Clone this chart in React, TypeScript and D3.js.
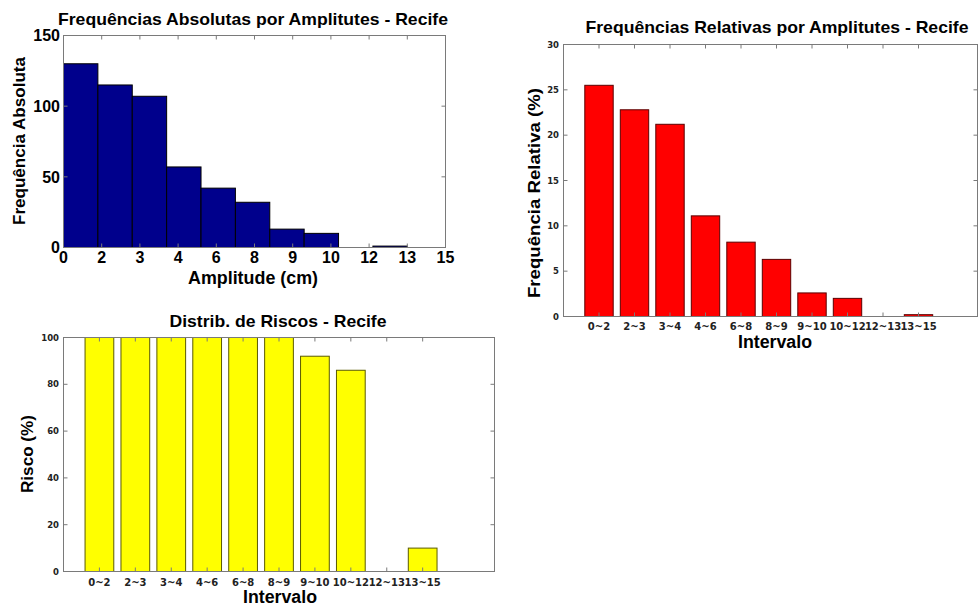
import React from "react";
import * as d3 from "d3";

// ---------- data ----------
const histEdges = [0, 0.9, 1.8, 2.7, 3.6, 4.5, 5.4, 6.3, 7.2, 8.1, 9.0];
const histCounts = [130, 115, 107, 57, 42, 32, 13, 10, 0, 1];
const histTickLabels = ["0", "2", "3", "4", "6", "8", "9", "10", "12", "13", "15"];
const histYTicks = [0, 50, 100, 150];

const intervals = ["0~2", "2~3", "3~4", "4~6", "6~8", "8~9", "9~10", "10~12", "12~13", "13~15"];
const relFreq = [25.5, 22.8, 21.2, 11.1, 8.2, 6.3, 2.6, 2.0, 0, 0.2];
const relYTicks = [0, 5, 10, 15, 20, 25, 30];

const risk = [100, 100, 100, 100, 100, 100, 92, 86, 0, 10];
const riskYTicks = [0, 20, 40, 60, 80, 100];

const ARIAL = "'Liberation Sans', Arial, Helvetica, sans-serif";
const DEJA = "'DejaVu Sans', sans-serif";
const FRAME = "#7a7a7a";
const TICK = 4;

type FrameProps = {
  x0: number; x1: number; y0: number; y1: number;
  xTicks: number[]; yTicks: number[];
};
function Frame({ x0, x1, y0, y1, xTicks, yTicks }: FrameProps) {
  return (
    <g stroke={FRAME} strokeWidth={1} fill="none">
      <rect x={x0} y={y1} width={x1 - x0} height={y0 - y1} />
      {xTicks.map((x, i) => (
        <g key={"x" + i}>
          <line x1={x} x2={x} y1={y0} y2={y0 - TICK} />
          <line x1={x} x2={x} y1={y1} y2={y1 + TICK} />
        </g>
      ))}
      {yTicks.map((y, i) => (
        <g key={"y" + i}>
          <line x1={x0} x2={x0 + TICK} y1={y} y2={y} />
          <line x1={x1} x2={x1 - TICK} y1={y} y2={y} />
        </g>
      ))}
    </g>
  );
}

function HistChart() {
  const x = d3.scaleLinear().domain([0, 10]).range([63.5, 445.5]);
  const y = d3.scaleLinear().domain([0, 150]).range([247.5, 35.5]);
  const tickPos = histTickLabels.map((_, i) => x(i));
  return (
    <g>
      {histCounts.map((c, i) => (
        <rect key={i} x={x(histEdges[i])} y={y(c)} width={x(histEdges[i + 1]) - x(histEdges[i])}
          height={y(0) - y(c)} fill="#00008c" stroke="#000" strokeWidth={1} />
      ))}
      <Frame x0={x(0)} x1={x(10)} y0={y(0)} y1={y(150)} xTicks={tickPos} yTicks={histYTicks.map(y)} />
      {histTickLabels.map((t, i) => (
        <text key={i} x={x(i)} y={263} textAnchor="middle" fontFamily={ARIAL} fontWeight="bold" fontSize={16}>{t}</text>
      ))}
      {histYTicks.map((t, i) => (
        <text key={i} x={60} y={y(t)} dy="0.36em" textAnchor="end" fontFamily={ARIAL} fontWeight="bold" fontSize={16}>{t}</text>
      ))}
      <text x={253} y={25} textAnchor="middle" fontFamily={ARIAL} fontWeight="bold" fontSize={17}
        textLength={390} lengthAdjust="spacingAndGlyphs">Frequências Absolutas por Amplitutes - Recife</text>
      <text x={253} y={284} textAnchor="middle" fontFamily={ARIAL} fontWeight="bold" fontSize={17.5}
        textLength={130} lengthAdjust="spacingAndGlyphs">Amplitude (cm)</text>
      <text transform="translate(25,141) rotate(-90)" textAnchor="middle" fontFamily={ARIAL} fontWeight="bold" fontSize={17}
        textLength={168} lengthAdjust="spacingAndGlyphs">Frequência Absoluta</text>
    </g>
  );
}

type BarProps = {
  x0: number; x1: number; y0: number; y1: number; yMax: number;
  values: number[]; yTicks: number[]; fill: string; edge: string;
  title: string; titleX: number; titleY: number; titleLen: number;
  ylabel: string; ylabelX: number; ylabelY: number; ylabelLen: number;
  xlabelX: number; xlabelY: number; xtickY: number; ytickX: number; frameRight: number;
};
function BarChart(p: BarProps) {
  const x = d3.scaleLinear().domain([0, 12]).range([p.x0, p.x1]);
  const y = d3.scaleLinear().domain([0, p.yMax]).range([p.y0, p.y1]);
  const bw = x(0.8) - x(0);
  const xt = intervals.map((_, i) => x(i + 1));
  return (
    <g>
      {p.values.map((v, i) => (
        <rect key={i} x={x(i + 1) - bw / 2} y={y(v)} width={bw} height={y(0) - y(v)}
          fill={p.fill} stroke={p.edge} strokeWidth={1} />
      ))}
      <Frame x0={p.x0} x1={p.frameRight} y0={p.y0} y1={p.y1} xTicks={xt} yTicks={p.yTicks.map(y)} />
      {intervals.map((t, i) => (
        <text key={i} x={x(i + 1)} y={p.xtickY} textAnchor="middle" fontFamily={DEJA} fontWeight="bold" fontSize={10}
          fill="#222">{t}</text>
      ))}
      {p.yTicks.map((t, i) => (
        <text key={i} x={p.ytickX} y={y(t)} dy="0.36em" textAnchor="end" fontFamily={DEJA} fontWeight="bold" fontSize={8.5}
          fill="#222">{t}</text>
      ))}
      <text x={p.titleX} y={p.titleY} textAnchor="middle" fontFamily={ARIAL} fontWeight="bold" fontSize={17}
        textLength={p.titleLen} lengthAdjust="spacingAndGlyphs">{p.title}</text>
      <text x={p.xlabelX} y={p.xlabelY} textAnchor="middle" fontFamily={ARIAL} fontWeight="bold" fontSize={17.5}
        textLength={74} lengthAdjust="spacingAndGlyphs">Intervalo</text>
      <text transform={`translate(${p.ylabelX},${p.ylabelY}) rotate(-90)`} textAnchor="middle" fontFamily={ARIAL}
        fontWeight="bold" fontSize={17} textLength={p.ylabelLen} lengthAdjust="spacingAndGlyphs">{p.ylabel}</text>
    </g>
  );
}

export default function App() {
  return (
    <svg width={979} height={608} style={{ position: "absolute", left: 0, top: 0, background: "#fff" }}>
      <rect x={0} y={0} width={979} height={608} fill="#fff" />
      <HistChart />
      <BarChart x0={563.5} x1={989.5} y0={316.5} y1={44.5} yMax={30} values={relFreq} yTicks={relYTicks}
        fill="#ff0000" edge="#5a0000" title="Frequências Relativas por Amplitutes - Recife" titleX={777} titleY={33}
        titleLen={383} ylabel="Frequência Relativa (%)" ylabelX={540} ylabelY={193} ylabelLen={210}
        xlabelX={775} xlabelY={348} xtickY={330} ytickX={559} frameRight={977.5} />
      <BarChart x0={63.5} x1={494.5} y0={571.5} y1={337.5} yMax={100} values={risk} yTicks={riskYTicks}
        fill="#ffff00" edge="#5a5a00" title="Distrib. de Riscos - Recife" titleX={278} titleY={327}
        titleLen={217} ylabel="Risco (%)" ylabelX={33} ylabelY={454} ylabelLen={78}
        xlabelX={280} xlabelY={603} xtickY={586} ytickX={59} frameRight={494.5} />
    </svg>
  );
}
